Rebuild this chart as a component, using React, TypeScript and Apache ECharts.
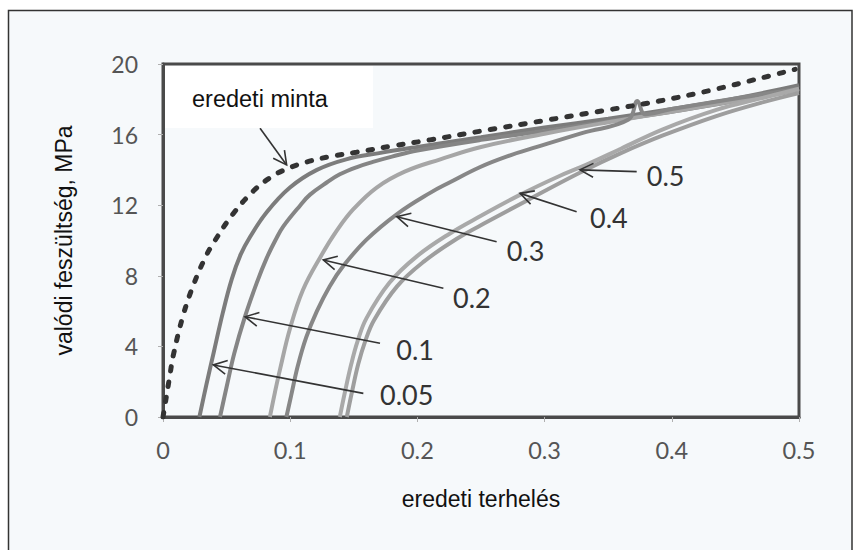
import React, { useEffect, useRef } from "react";
import * as echarts from "echarts";

// x-axis ticks / y-axis ticks
const xTicks = [0, 0.1, 0.2, 0.3, 0.4, 0.5];
const yTicks = [0, 4, 8, 12, 16, 20];

// dashed curve: original sample
const originalX = [0, 0.0016, 0.0055, 0.0081, 0.016, 0.024, 0.033, 0.04, 0.055, 0.071, 0.084, 0.097, 0.113, 0.131, 0.152, 0.18, 0.21, 0.25, 0.3, 0.35, 0.39, 0.43, 0.47, 0.497];
const originalY = [0, 0.7, 2.4, 3.5, 5.8, 7.5, 9.0, 9.9, 11.5, 12.8, 13.55, 14.05, 14.45, 14.75, 15.0, 15.35, 15.7, 16.2, 16.8, 17.4, 17.9, 18.5, 19.2, 19.7];

// pre-loaded curves
const c005X = [0.0286, 0.034, 0.04, 0.047, 0.054, 0.061, 0.0684, 0.0815, 0.0998, 0.121, 0.144, 0.17, 0.2, 0.25, 0.3, 0.35, 0.4, 0.45, 0.5];
const c005Y = [0, 1.8, 3.7, 5.9, 7.8, 9.2, 10.2, 11.6, 13.0, 14.0, 14.6, 14.95, 15.3, 15.85, 16.4, 16.9, 17.45, 18.05, 18.8];

const c01X = [0.0448, 0.05, 0.056, 0.0645, 0.0737, 0.0815, 0.089, 0.0946, 0.108, 0.1156, 0.129, 0.139, 0.152, 0.165, 0.18, 0.2, 0.25, 0.3, 0.35, 0.4, 0.45, 0.5];
const c01Y = [0, 1.7, 3.6, 5.7, 7.6, 9.0, 10.1, 10.8, 12.0, 12.6, 13.3, 13.75, 14.15, 14.45, 14.75, 15.1, 15.7, 16.2, 16.75, 17.3, 17.9, 18.6];

const c02X = [0.084, 0.088, 0.092, 0.0998, 0.11, 0.124, 0.137, 0.15, 0.168, 0.19, 0.218, 0.25, 0.3, 0.35, 0.4, 0.45, 0.5];
const c02Y = [0, 1.4, 2.7, 5.0, 7.2, 9.1, 10.6, 11.8, 13.0, 13.9, 14.6, 15.3, 16.05, 16.7, 17.3, 17.9, 18.5];

const c03X = [0.097, 0.1007, 0.106, 0.1125, 0.121, 0.131, 0.1417, 0.16, 0.184, 0.21, 0.2256, 0.249, 0.27, 0.294, 0.33, 0.366, 0.373, 0.379, 0.4, 0.45, 0.5];
const c03Y = [0, 1.2, 2.9, 4.5, 6.0, 7.4, 8.55, 10.05, 11.5, 12.7, 13.3, 14.15, 14.75, 15.3, 16.1, 16.85, 17.9, 17.15, 17.45, 18.05, 18.6];

const c04X = [0.139, 0.143, 0.148, 0.153, 0.16, 0.178, 0.1995, 0.2256, 0.25, 0.281, 0.31, 0.333, 0.36, 0.393, 0.435, 0.47, 0.5];
const c04Y = [0, 1.4, 3.0, 4.3, 5.6, 7.6, 9.1, 10.4, 11.4, 12.6, 13.6, 14.3, 15.2, 16.3, 17.4, 18.05, 18.6];

const c05X = [0.1445, 0.1485, 0.1535, 0.159, 0.166, 0.184, 0.205, 0.231, 0.256, 0.287, 0.328, 0.36, 0.393, 0.435, 0.47, 0.5];
const c05Y = [0, 1.4, 3.0, 4.3, 5.5, 7.4, 8.8, 10.1, 11.1, 12.3, 13.85, 14.95, 15.95, 17.05, 17.8, 18.35];

// annotations (arrows with labels), in data units
const annLabels = ["", "0.05", "0.1", "0.2", "0.3", "0.4", "0.5"];
const annTipX = [0.0972, 0.0396, 0.0645, 0.126, 0.1838, 0.2807, 0.3278];
const annTipY = [14.28, 2.95, 5.68, 8.9, 11.35, 12.67, 14.0];
const annTailX = [0.0763, 0.1575, 0.1706, 0.2204, 0.2623, 0.3252, 0.3724];
const annTailY = [16.36, 1.34, 4.18, 7.29, 9.93, 11.63, 13.9];
const annLabelX = [0, 0.1706, 0.1834, 0.228, 0.2702, 0.3357, 0.3803];
const annLabelY = [0, 1.3, 3.8, 6.77, 9.46, 11.3, 13.71];

const zip = (xs: number[], ys: number[]) => xs.map((x, i) => [x, ys[i]]);

const solidCurves = [
  { name: "0.05", x: c005X, y: c005Y, color: "#7c7c7c" },
  { name: "0.1", x: c01X, y: c01Y, color: "#858585" },
  { name: "0.2", x: c02X, y: c02Y, color: "#a6a6a6" },
  { name: "0.3", x: c03X, y: c03Y, color: "#878787" },
  { name: "0.4", x: c04X, y: c04Y, color: "#a9a9a9" },
  { name: "0.5", x: c05X, y: c05Y, color: "#9e9e9e" },
];

export default function App() {
  const ref = useRef<HTMLDivElement>(null);

  useEffect(() => {
    if (!ref.current) return;
    const chart = echarts.init(ref.current, undefined, { renderer: "svg" });

    const series: any[] = solidCurves.map((c) => ({
      type: "line",
      name: c.name,
      data: zip(c.x, c.y),
      showSymbol: false,
      smooth: 0.4,
      lineStyle: { color: c.color, width: 4 },
      z: 2,
    }));

    series.push({
      type: "line",
      name: "eredeti minta",
      data: zip(originalX, originalY),
      showSymbol: false,
      smooth: 0.4,
      lineStyle: { color: "#333333", width: 5, type: [4.5, 11], cap: "round" },
      z: 3,
    });

    series.push({
      type: "custom",
      name: "annotations",
      data: annTipX.map((v, i) => [v, annTipY[i], annTailX[i], annTailY[i], annLabelX[i], annLabelY[i]]),
      z: 5,
      silent: true,
      renderItem: (params: any, api: any) => {
        const tip = api.coord([api.value(0), api.value(1)]);
        const tail = api.coord([api.value(2), api.value(3)]);
        const lab = api.coord([api.value(4), api.value(5)]);
        const text = annLabels[params.dataIndex];
        const dx = tail[0] - tip[0];
        const dy = tail[1] - tip[1];
        const len = Math.hypot(dx, dy) || 1;
        const ux = dx / len;
        const uy = dy / len;
        const hl = 15;
        const a = 0.48;
        const c = Math.cos(a);
        const s = Math.sin(a);
        const h1 = [tip[0] + hl * (ux * c - uy * s), tip[1] + hl * (ux * s + uy * c)];
        const h2 = [tip[0] + hl * (ux * c + uy * s), tip[1] + hl * (-ux * s + uy * c)];
        const children: any[] = [
          {
            type: "line",
            shape: { x1: tail[0], y1: tail[1], x2: tip[0], y2: tip[1] },
            style: { stroke: "#333333", lineWidth: 1.6 },
          },
          {
            type: "polyline",
            shape: { points: [h1, tip, h2] },
            style: { stroke: "#333333", lineWidth: 1.6, fill: null },
          },
        ];
        if (text) {
          children.push({
            type: "text",
            style: {
              text,
              x: lab[0],
              y: lab[1],
              fill: "#333333",
              fontSize: 27,
              fontFamily: "Lato",
              align: "left",
              verticalAlign: "middle",
            },
          });
        }
        return { type: "group", children };
      },
    });

    chart.setOption({
      animation: false,
      backgroundColor: "#ffffff",
      grid: {
        left: 163,
        right: 60,
        top: 64,
        bottom: 133,
        show: true,
        borderColor: "#4a4a4a",
        borderWidth: 3,
        backgroundColor: "transparent",
      },
      xAxis: {
        type: "value",
        min: xTicks[0],
        max: xTicks[xTicks.length - 1],
        interval: 0.1,
        name: "eredeti terhelés",
        nameLocation: "middle",
        nameGap: 70,
        nameTextStyle: { fontFamily: "Liberation Sans, Arial", fontSize: 23, color: "#111111" },
        axisLine: { show: true, lineStyle: { color: "#4a4a4a", width: 3 } },
        axisTick: { show: true, length: 5, lineStyle: { color: "#b0b0b0", width: 1 } },
        axisLabel: { margin: 21, fontFamily: "Lato", fontSize: 23.5, color: "#555555" },
        splitLine: { show: false },
      },
      yAxis: {
        type: "value",
        min: yTicks[0],
        max: yTicks[yTicks.length - 1],
        interval: 4,
        name: "valódi feszültség, MPa",
        nameLocation: "middle",
        nameGap: 88,
        nameTextStyle: { fontFamily: "Liberation Sans, Arial", fontSize: 23, color: "#111111" },
        axisLine: { show: true, lineStyle: { color: "#4a4a4a", width: 3 } },
        axisTick: { show: true, length: 5, lineStyle: { color: "#b0b0b0", width: 1 } },
        axisLabel: { margin: 25, fontFamily: "Lato", fontSize: 23, color: "#555555" },
        splitLine: { show: false },
      },
      graphic: [
        {
          type: "rect",
          z: -10,
          silent: true,
          shape: { x: 8.5, y: 10.5, width: 843.5, height: 560 },
          style: { fill: "#f6f9fb", stroke: "#333333", lineWidth: 1.5 },
        },
        {
          type: "rect",
          z: 10,
          silent: true,
          shape: { x: 165, y: 66, width: 208, height: 62 },
          style: { fill: "#ffffff" },
        },
        {
          type: "text",
          z: 11,
          silent: true,
          style: {
            text: "eredeti minta",
            x: 192,
            y: 99,
            fill: "#111111",
            fontSize: 23.5,
            fontFamily: "Liberation Sans, Arial",
            align: "left",
            verticalAlign: "middle",
          },
        },
      ],
      series,
    });

    return () => chart.dispose();
  }, []);

  return (
    <div
      ref={ref}
      style={{ position: "fixed", left: 0, top: 0, width: 859, height: 550 }}
    />
  );
}
